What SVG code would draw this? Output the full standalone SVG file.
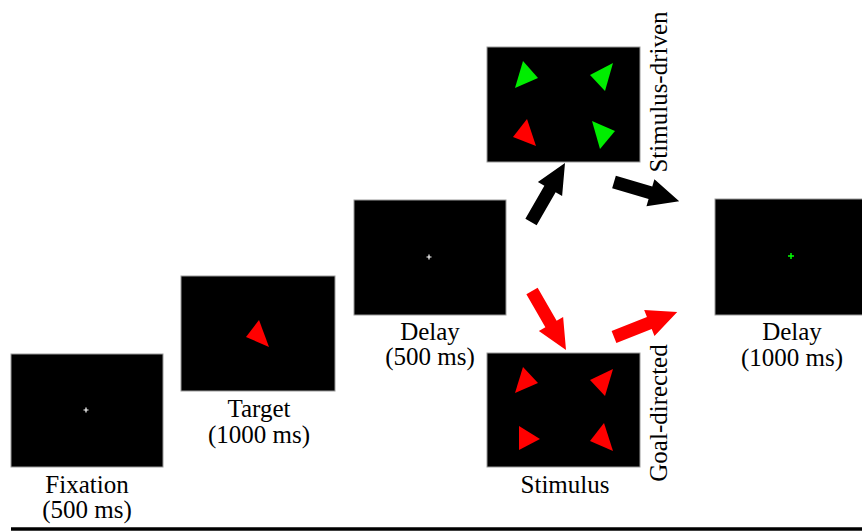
<svg xmlns="http://www.w3.org/2000/svg" width="862" height="531" viewBox="0 0 862 531">
<style>
.scr{fill:#000;stroke:#9a9a9a;stroke-width:1}
.red{fill:#ff0000}
.grn{fill:#00ee00}
.wx{stroke:#fff;stroke-width:1.2}
.gx{stroke:#00ff00;stroke-width:1.5}
</style>
<defs>
<path id="arr" d="M0,-6.5 L38,-6.5 L38,-14 L68,0 L38,14 L38,6.5 L0,6.5 Z"/>
</defs>
<rect width="862" height="531" fill="#fff"/>
<g font-family="Liberation Serif, Times New Roman, DejaVu Serif, serif" font-size="25" text-anchor="middle" fill="#000">
<g id="fixation">
<rect class="scr" x="11" y="354" width="152" height="113"/>
<path class="wx" d="M83.5,410 H88.5 M86,407.5 V412.5"/>
<text x="87" y="493">Fixation</text>
<text x="87" y="518">(500 ms)</text>
</g>
<g id="target">
<rect class="scr" x="181" y="276" width="154" height="115"/>
<polygon class="red" points="259,320 246,337 269,347"/>
<text x="259" y="417">Target</text>
<text x="259" y="443">(1000 ms)</text>
</g>
<g id="delay1">
<rect class="scr" x="354" y="200" width="152" height="115"/>
<path class="wx" d="M426.5,257 H431.5 M429,254.5 V259.5"/>
<text x="430" y="340">Delay</text>
<text x="430" y="365">(500 ms)</text>
</g>
<g id="stim-driven">
<rect class="scr" x="487" y="47" width="153" height="115"/>
<polygon class="grn" points="523,61 538,78 515,88"/>
<polygon class="grn" points="613,63 590,75 605,91"/>
<polygon class="red" points="527,119 536,146 513,137"/>
<polygon class="grn" points="592,121 615,131 600,149"/>
<text transform="translate(667,92) rotate(-90)">Stimulus-driven</text>
</g>
<g id="goal-directed">
<rect class="scr" x="487" y="353" width="153" height="114"/>
<polygon class="red" points="523,367 538,383 515,393"/>
<polygon class="red" points="613,369 590,380 605,396"/>
<polygon class="red" points="519,426 540,439 519,450"/>
<polygon class="red" points="604,423 613,451 590,441"/>
<text x="565" y="493">Stimulus</text>
<text transform="translate(667,413) rotate(-90)">Goal-directed</text>
</g>
<g id="delay2">
<rect class="scr" x="715" y="199" width="150" height="116"/>
<path class="gx" d="M788,256 H794 M791,253 V259"/>
<text x="792" y="340">Delay</text>
<text x="792" y="366">(1000 ms)</text>
</g>
</g>
<g id="connectors">
<use href="#arr" fill="#000" transform="translate(531,222) rotate(-60)"/>
<use href="#arr" fill="#000" transform="translate(614,182) rotate(16.5)"/>
<use href="#arr" fill="#ff0000" transform="translate(532,291) rotate(60)"/>
<use href="#arr" fill="#ff0000" transform="translate(614,337) rotate(-21.6)"/>
</g>
<line x1="11" y1="529" x2="862" y2="529" stroke="#000" stroke-width="3.5"/>
</svg>
